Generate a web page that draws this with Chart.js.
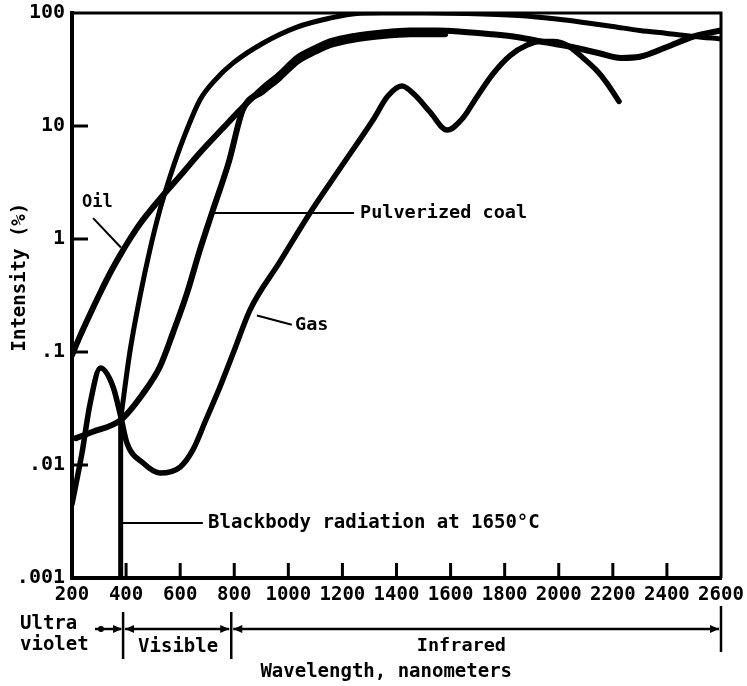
<!DOCTYPE html>
<html>
<head>
<meta charset="utf-8">
<script src="https://cdn.jsdelivr.net/npm/chart.js@4.4.1/dist/chart.umd.min.js"></script>
<style>
  html, body { margin: 0; padding: 0; background: #fff; }
  canvas { display: block; }
</style>
</head>
<body>
<canvas id="spectrum" width="747" height="686"></canvas>
<script>
// Emission spectra of flames compared with a 1650 °C blackbody (intensity in %)

const blackbodyNm  = [381, 414, 451, 488, 525, 562, 599, 636, 673, 729, 795, 906, 1032, 1154, 1254, 1350, 1500, 1650, 1850, 2000, 2100, 2200, 2300, 2400, 2500, 2600];
const blackbodyPct = [0.0266, 0.1, 0.307, 0.8, 1.81, 3.54, 6.4, 10.8, 17, 25.5, 36, 54, 75, 90, 99, 100, 100, 99, 95, 88, 82, 76, 70, 66, 62, 59];
// short-wavelength cut-off of the blackbody curve
const blackbodyCutoffNm  = [380, 380];
const blackbodyCutoffPct = [0.001, 0.0266];

const oilNm  = [200, 230, 267, 304, 341, 378, 414, 451, 525, 599, 673, 755, 832, 906, 969, 1032, 1100, 1154, 1250, 1339, 1450, 1550, 1650, 1750, 1850, 1950, 2050, 2150, 2230, 2300, 2400, 2500, 2600];
const oilPct = [0.094, 0.139, 0.217, 0.333, 0.5, 0.72, 1.0, 1.36, 2.26, 3.6, 5.8, 9.4, 14.7, 21.7, 28.8, 40, 49, 56, 63, 67, 70, 70, 68, 65, 61, 55, 50, 44, 40, 41, 50, 62, 70];

const coalNm  = [215, 277, 380, 463, 525, 573, 625, 673, 721, 780, 832, 906, 969, 1032, 1100, 1154, 1250, 1339, 1450, 1550, 1580];
const coalPct = [0.0173, 0.0197, 0.025, 0.043, 0.074, 0.147, 0.33, 0.8, 1.8, 4.8, 14.0, 20.2, 26.8, 37, 45.5, 52, 58.5, 62.3, 65, 65, 65];

const gasNm  = [200, 237, 267, 305, 352, 380, 403, 463, 525, 600, 647, 695, 747, 803, 858, 969, 1080, 1191, 1313, 1368, 1420, 1468, 1524, 1587, 1646, 1690, 1757, 1820, 1883, 1930, 1980, 2030, 2090, 2140, 2178, 2223];
const gasPct = [0.0045, 0.0128, 0.035, 0.072, 0.049, 0.027, 0.0157, 0.0104, 0.0085, 0.0096, 0.0136, 0.025, 0.049, 0.108, 0.235, 0.63, 1.7, 4.2, 11.3, 18.4, 22.6, 18.8, 13.3, 9.2, 11.8, 17, 29, 42, 52, 56, 56, 52, 40, 31, 24, 16.5];

const xTickValues = [200, 400, 600, 800, 1000, 1200, 1400, 1600, 1800, 2000, 2200, 2400, 2600];
const yTickValues = [0.001, 0.01, 0.1, 1, 10, 100];
const yTickLabels = ['.001', '.01', '.1', '1', '10', '100'];

// Spectral bands shown under the wavelength axis
const bandEdges = [200, 400, 800, 2600];

// Curve callouts: leader line (wavelength, %) and label anchor
const callouts = [
  { text: 'Oil', from: [278, 1.53], to: [381, 0.84], at: [237, 2.08], size: 17 },
  { text: 'Pulverized coal', from: [721, 1.7], to: [1243, 1.7], at: [1265, 1.7], size: 18.5 },
  { text: 'Gas', from: [884, 0.21], to: [1013, 0.174], at: [1025, 0.173], size: 18.5 },
  { text: 'Blackbody radiation at 1650°C', from: [381, 0.00307], to: [684, 0.00307], at: [703, 0.00307], size: 19 }
];

const FONT = '"DejaVu Sans Mono", "Liberation Mono", monospace';
const INK = '#000';

function points(xs, ys) {
  return xs.map((x, i) => ({ x: x, y: ys[i] }));
}

function series(label, xs, ys, width) {
  return {
    label: label,
    data: points(xs, ys),
    borderColor: INK,
    backgroundColor: INK,
    borderWidth: width,
    pointRadius: 0,
    fill: false,
    cubicInterpolationMode: 'monotone',
    borderCapStyle: 'round',
    borderJoinStyle: 'round'
  };
}

function arrowHead(ctx, x, y, dir) {
  ctx.beginPath();
  ctx.moveTo(x, y);
  ctx.lineTo(x - dir * 9, y - 4);
  ctx.lineTo(x - dir * 9, y + 4);
  ctx.closePath();
  ctx.fill();
}

const annotations = {
  id: 'annotations',
  afterDraw(chart) {
    const ctx = chart.ctx;
    const xs = chart.scales.x;
    const ys = chart.scales.y;
    const area = chart.chartArea;
    ctx.save();
    ctx.strokeStyle = INK;
    ctx.fillStyle = INK;
    ctx.lineCap = 'butt';

    // top and right frame
    ctx.lineWidth = 3;
    ctx.beginPath();
    ctx.moveTo(area.left, area.top);
    ctx.lineTo(area.right, area.top);
    ctx.lineTo(area.right, area.bottom);
    ctx.stroke();

    // inward tick marks
    ctx.lineWidth = 3;
    xTickValues.slice(1, -1).forEach(v => {
      const px = xs.getPixelForValue(v);
      ctx.beginPath();
      ctx.moveTo(px, area.bottom);
      ctx.lineTo(px, area.bottom - 15);
      ctx.stroke();
    });
    yTickValues.slice(1, -1).forEach(v => {
      const py = ys.getPixelForValue(v);
      ctx.beginPath();
      ctx.moveTo(area.left, py);
      ctx.lineTo(area.left + 16, py);
      ctx.stroke();
    });

    // callouts
    ctx.lineWidth = 2;
    ctx.textBaseline = 'middle';
    ctx.textAlign = 'left';
    callouts.forEach(c => {
      ctx.beginPath();
      ctx.moveTo(xs.getPixelForValue(c.from[0]), ys.getPixelForValue(c.from[1]));
      ctx.lineTo(xs.getPixelForValue(c.to[0]), ys.getPixelForValue(c.to[1]));
      ctx.stroke();
      ctx.font = 'bold ' + c.size + 'px ' + FONT;
      ctx.fillText(c.text, xs.getPixelForValue(c.at[0]), ys.getPixelForValue(c.at[1]));
    });

    // spectral band brackets under the axis
    const lineY = area.bottom + 51;
    const edge = bandEdges.map(v => xs.getPixelForValue(v));
    ctx.lineWidth = 2.5;
    [1, 2].forEach(i => {
      ctx.beginPath();
      ctx.moveTo(edge[i] - 3, area.bottom + 34);
      ctx.lineTo(edge[i] - 3, area.bottom + 81);
      ctx.stroke();
    });
    ctx.beginPath();
    ctx.moveTo(edge[3], area.bottom + 28);
    ctx.lineTo(edge[3], area.bottom + 74);
    ctx.stroke();

    const div1 = edge[1] - 3;
    const div2 = edge[2] - 3;

    // ultraviolet: short leader into the 400 nm divider
    ctx.beginPath();
    ctx.moveTo(edge[0] + 23, lineY);
    ctx.lineTo(div1 - 2, lineY);
    ctx.stroke();
    ctx.beginPath();
    ctx.arc(edge[0] + 29, lineY, 3, 0, Math.PI * 2);
    ctx.fill();
    arrowHead(ctx, div1 - 1, lineY, 1);

    // visible and infrared spans
    [[div1, div2], [div2, edge[3]]].forEach(([a, b]) => {
      ctx.beginPath();
      ctx.moveTo(a + 2, lineY);
      ctx.lineTo(b - 2, lineY);
      ctx.stroke();
      arrowHead(ctx, a + 2, lineY, -1);
      arrowHead(ctx, b - 2, lineY, 1);
    });

    ctx.font = 'bold 19px ' + FONT;
    ctx.textAlign = 'left';
    ctx.fillText('Ultra', 20, area.bottom + 46);
    ctx.fillText('violet', 20, area.bottom + 67);
    ctx.fillText('Visible', div1 + 15, area.bottom + 69);
    ctx.font = 'bold 18.5px ' + FONT;
    ctx.textAlign = 'center';
    ctx.fillText('Infrared', xs.getPixelForValue(1640), area.bottom + 68);
    ctx.font = 'bold 19px ' + FONT;
    ctx.fillText('Wavelength, nanometers', xs.getPixelForValue(1362), area.bottom + 94);

    // vertical axis title
    ctx.translate(20, ys.getPixelForValue(0.46));
    ctx.rotate(-Math.PI / 2);
    ctx.font = 'bold 19px ' + FONT;
    ctx.textAlign = 'center';
    ctx.fillText('Intensity (%)', 0, 0);
    ctx.restore();
  }
};

const cutoff = series('Blackbody cut-off', blackbodyCutoffNm, blackbodyCutoffPct, 5);
cutoff.cubicInterpolationMode = 'default';
cutoff.tension = 0;
cutoff.borderCapStyle = 'butt';

new Chart(document.getElementById('spectrum'), {
  type: 'line',
  data: {
    datasets: [
      series('Blackbody radiation at 1650°C', blackbodyNm, blackbodyPct, 5),
      cutoff,
      series('Oil', oilNm, oilPct, 6),
      series('Pulverized coal', coalNm, coalPct, 6),
      series('Gas', gasNm, gasPct, 5.5)
    ]
  },
  options: {
    responsive: false,
    animation: false,
    layout: { padding: { top: 13, right: 26, left: 0, bottom: 0 } },
    plugins: { legend: { display: false }, tooltip: { enabled: false } },
    scales: {
      x: {
        type: 'linear',
        min: 200,
        max: 2600,
        afterBuildTicks: s => { s.ticks = xTickValues.map(v => ({ value: v })); },
        afterFit: s => {
          s.height = 108;
          s.paddingLeft = 0;
          s.paddingRight = 0;
        },
        ticks: {
          autoSkip: false,
          maxRotation: 0,
          padding: 6,
          color: INK,
          font: { family: FONT, size: 19, weight: 'bold' },
          callback: v => String(v)
        },
        grid: { display: false, drawTicks: false },
        border: { display: true, color: INK, width: 4 }
      },
      y: {
        type: 'logarithmic',
        min: 0.001,
        max: 100,
        afterBuildTicks: s => { s.ticks = yTickValues.map(v => ({ value: v })); },
        afterFit: s => {
          s.width = 72;
          s.paddingTop = 0;
          s.paddingBottom = 0;
        },
        ticks: {
          autoSkip: false,
          padding: 7,
          color: INK,
          font: { family: FONT, size: 20, weight: 'bold' },
          callback: v => {
            const i = yTickValues.findIndex(t => Math.abs(Math.log10(t) - Math.log10(v)) < 1e-6);
            return i >= 0 ? yTickLabels[i] : '';
          }
        },
        grid: { display: false, drawTicks: false },
        border: { display: true, color: INK, width: 4 }
      }
    }
  },
  plugins: [annotations]
});
</script>
</body>
</html>
